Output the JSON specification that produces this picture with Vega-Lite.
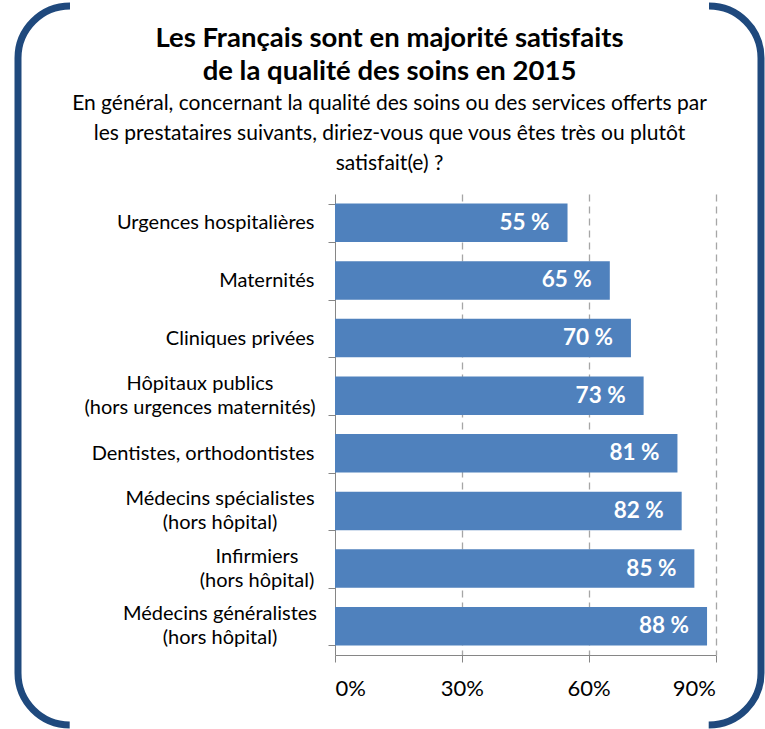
{
  "$schema": "https://vega.github.io/schema/vega-lite/v6.json",
  "autosize": "none",
  "width": 743,
  "height": 719,
  "padding": {"left": 18, "top": 6, "right": 4, "bottom": 4},
  "background": "white",
  "view": {
    "stroke": "#1F497D",
    "strokeWidth": 7,
    "cornerRadius": 52,
    "strokeDash": [778.4, 639],
    "strokeDashOffset": 778.4
  },
  "title": {
    "text": ["Les Français sont en majorité satisfaits", "de la qualité des soins en 2015"],
    "subtitle": ["En général, concernant la qualité des soins ou des services offerts par", "les prestataires suivants, diriez-vous que vous êtes très ou plutôt", "satisfait(e) ?"],
    "anchor": "middle",
    "frame": "group",
    "offset": -178,
    "font": "Lato",
    "fontSize": 27.5,
    "fontWeight": "bold",
    "color": "black",
    "lineHeight": 33,
    "subtitleFont": "Lato",
    "subtitleFontSize": 21,
    "subtitleColor": "black",
    "subtitleLineHeight": 30,
    "subtitlePadding": 8
  },
  "data": {
    "values": [
      {"cat": "Urgences hospitalières", "v": 55},
      {"cat": "Maternités", "v": 65},
      {"cat": "Cliniques privées", "v": 70},
      {"cat": "Hôpitaux publics\n(hors urgences maternités)", "v": 73},
      {"cat": "Dentistes, orthodontistes", "v": 81},
      {"cat": "Médecins spécialistes\n(hors hôpital)", "v": 82},
      {"cat": "Infirmiers\n(hors hôpital)", "v": 85},
      {"cat": "Médecins généralistes\n(hors hôpital)", "v": 88}
    ]
  },
  "transform": [
    {"calculate": "datum.v + ' %'", "as": "lbl"},
    {"calculate": "split(datum.cat, '\\n')", "as": "lines"}
  ],
  "encoding": {
    "y": {
      "field": "cat",
      "type": "nominal",
      "sort": null,
      "scale": {"range": [188, 649], "paddingInner": 0.33, "paddingOuter": 0.165},
      "axis": {
        "orient": "left",
        "offset": -317,
        "title": null,
        "tickBand": "extent",
        "tickSize": 7,
        "tickColor": "#868686",
        "domainColor": "#868686",
        "labelPadding": 14,
        "labelFont": "Lato",
        "labelFontSize": 20,
        "labelColor": "black",
        "labelLimit": 0,
        "labelExpr": "indexof(datum.label, '\\n') >= 0 ? '' : datum.label"
      }
    }
  },
  "layer": [
    {
      "mark": {"type": "bar", "color": "#4F81BD"},
      "encoding": {
        "x": {
          "field": "v",
          "type": "quantitative",
          "scale": {"domain": [0, 90], "range": [317, 697.5]},
          "axis": {
            "orient": "bottom",
            "offset": -70,
            "title": null,
            "grid": false,
            "values": [0, 30, 60, 90],
            "labelExpr": "datum.value + '%'",
            "tickSize": 7,
            "tickColor": "#868686",
            "domainColor": "#868686",
            "labelPadding": 16,
            "labelFont": "Lato",
            "labelFontSize": 22,
            "labelColor": "black"
          }
        }
      }
    },
    {
      "mark": {"type": "text", "align": "right", "baseline": "middle", "dx": -18, "color": "white", "font": "Lato", "fontWeight": "bold", "fontSize": 22.5},
      "encoding": {
        "x": {
          "field": "v",
          "type": "quantitative",
          "axis": {
            "orient": "top",
            "title": null,
            "grid": true,
            "gridColor": "#A6A6A6",
            "gridDash": [7, 5],
            "gridWidth": 1.3,
            "labels": false,
            "ticks": false,
            "domain": false,
            "values": [30, 60, 90]
          }
        },
        "text": {"field": "lbl"}
      }
    },
    {
      "transform": [{"filter": "indexof(datum.cat, 'Hôpitaux') == 0"}],
      "mark": {"type": "text", "align": "center", "baseline": "middle", "dx": -135, "dy": -12, "color": "black", "font": "Lato", "fontSize": 20, "lineHeight": 24},
      "encoding": {
        "x": {"datum": 0, "type": "quantitative", "axis": null},
        "text": {"field": "lines"}
      }
    },
    {
      "transform": [{"filter": "indexof(datum.cat, 'Médecins') == 0"}],
      "mark": {"type": "text", "align": "center", "baseline": "middle", "dx": -115, "dy": -12, "color": "black", "font": "Lato", "fontSize": 20, "lineHeight": 24},
      "encoding": {
        "x": {"datum": 0, "type": "quantitative", "axis": null},
        "text": {"field": "lines"}
      }
    },
    {
      "transform": [{"filter": "indexof(datum.cat, 'Infirmiers') == 0"}],
      "mark": {"type": "text", "align": "center", "baseline": "middle", "dx": -78, "dy": -12, "color": "black", "font": "Lato", "fontSize": 20, "lineHeight": 24},
      "encoding": {
        "x": {"datum": 0, "type": "quantitative", "axis": null},
        "text": {"field": "lines"}
      }
    }
  ],
  "resolve": {"axis": {"x": "independent"}}
}
